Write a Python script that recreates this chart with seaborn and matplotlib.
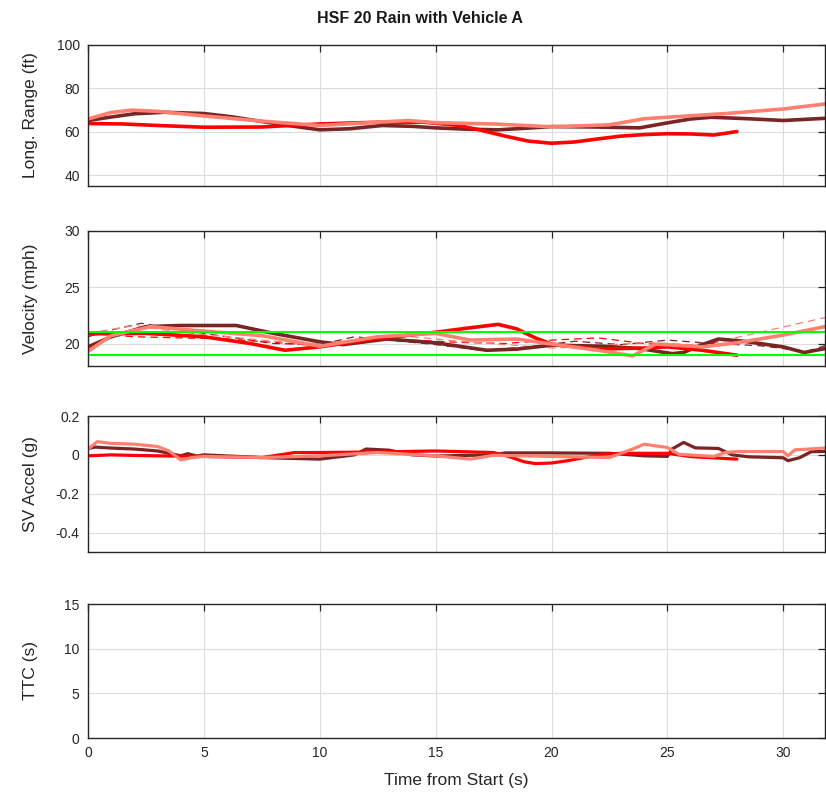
import numpy as np
import pandas as pd
import matplotlib
matplotlib.use("Agg")
import matplotlib.pyplot as plt
import seaborn as sns

# ---- run colours ----
run_names = ["Run 1", "Run 2", "Run 3"]
run_colors = ["#7a2424", "#ff0000", "#ff8070"]

# ---- longitudinal range (ft) ----
rng_t_1 = [0, 1, 2, 3.3, 5, 6.2, 7.4, 8.7, 10, 11.3, 12.7, 14, 15, 16.3, 17.7, 19, 20, 21.9, 23.8, 25, 26, 26.9, 28.5, 30, 31.8]
rng_v_1 = [65.2, 66.8, 68.3, 69.0, 68.4, 66.9, 64.9, 62.8, 60.9, 61.4, 62.9, 62.5, 61.8, 61.2, 60.9, 61.7, 62.4, 62.2, 61.8, 64.1, 65.9, 66.7, 66.0, 65.2, 66.2]
rng_t_2 = [0, 1.5, 3, 5, 7.5, 10, 12.5, 14.5, 16, 17, 18, 19, 20, 21, 22, 23, 24, 25, 26, 27, 28]
rng_v_2 = [63.8, 63.6, 62.9, 62.1, 62.2, 63.6, 64.4, 64.4, 62.9, 60.6, 58.0, 55.7, 54.7, 55.3, 56.7, 58.0, 58.7, 59.1, 59.0, 58.5, 60.1]
rng_t_3 = [0, 1, 1.9, 3, 5, 7.5, 10, 12.5, 13.8, 15, 17.5, 20, 22.5, 24, 25, 27.5, 30, 31.8]
rng_v_3 = [65.9, 68.9, 70.0, 69.4, 67.3, 64.9, 62.9, 64.4, 65.2, 64.2, 63.6, 62.3, 63.2, 66.0, 66.7, 68.4, 70.5, 72.8]

# ---- subject vehicle velocity (mph), solid ----
vel_t_1 = [0, 1, 2.5, 4, 6.4, 8, 10, 11, 12.9, 15, 17.2, 18.5, 20, 22.2, 23.8, 25.2, 25.7, 26.5, 27.2, 28.3, 30, 30.9, 31.8]
vel_v_1 = [19.7, 20.6, 21.5, 21.6, 21.6, 20.9, 20.15, 19.9, 20.4, 20.06, 19.4, 19.5, 19.85, 19.76, 19.55, 19.1, 19.2, 19.9, 20.4, 20.2, 19.7, 19.2, 19.55]
vel_t_2 = [0, 2.5, 5, 7, 8.5, 10, 12.5, 15, 16.5, 17.7, 18.5, 19.3, 20, 22, 24, 25, 26.5, 28]
vel_v_2 = [20.86, 20.9, 20.6, 20.0, 19.4, 19.7, 20.45, 21.0, 21.4, 21.7, 21.3, 20.5, 19.95, 19.5, 19.6, 19.7, 19.4, 18.96]
vel_t_3 = [0, 1, 2.7, 5, 7.5, 10, 12.5, 15, 16.5, 18.5, 20, 22, 23.5, 24.5, 26.5, 28, 30, 31.8]
vel_v_3 = [19.3, 20.7, 21.5, 21.1, 20.7, 19.76, 20.6, 20.9, 20.3, 20.4, 19.95, 19.4, 18.9, 19.95, 19.7, 20.06, 20.75, 21.5]

# ---- lead vehicle velocity (mph), dashed ----
pov_t_1 = [0, 1, 2.3, 4, 6, 8, 10, 11.5, 13, 15, 17, 19, 21, 23, 25, 27, 29, 31, 31.8]
pov_v_1 = [20.6, 21.2, 21.8, 21.2, 20.6, 20.0, 19.9, 20.6, 20.3, 19.9, 19.4, 19.7, 20.2, 19.9, 20.3, 20.0, 19.8, 19.3, 19.8]
pov_t_2 = [0, 2, 4, 6, 8, 10, 12, 14, 16, 18, 20, 22, 24, 26, 28]
pov_v_2 = [20.9, 20.6, 20.5, 20.4, 20.1, 19.8, 20.5, 20.3, 20.1, 20.0, 20.3, 20.5, 20.0, 19.8, 20.4]
pov_t_3 = [0, 2, 4, 6, 8, 10, 12, 14, 16, 18, 20, 22, 24, 26, 27.5, 29, 30.5, 31.8]
pov_v_3 = [20.9, 21.6, 21.0, 20.6, 20.2, 20.0, 20.4, 20.6, 20.2, 19.9, 19.6, 19.8, 20.1, 19.9, 20.3, 21.0, 21.7, 22.3]

# ---- speed tolerance band (mph) ----
band_lo, band_hi = 19.0, 21.0

# ---- subject vehicle acceleration (g) ----
acc_t_1 = [0, 0.3, 1, 2, 3, 3.5, 4, 4.3, 4.7, 5, 7.5, 10, 11.5, 12, 13, 14, 15, 17.5, 18, 20, 22.5, 24, 25, 25.2, 25.7, 26.2, 27.2, 27.8, 28.5, 30, 30.2, 30.7, 31.2, 31.8]
acc_v_1 = [0.033, 0.04, 0.035, 0.03, 0.02, 0.008, -0.005, 0.006, -0.006, 0.0, -0.014, -0.022, 0.0, 0.03, 0.024, 0.0, -0.006, 0.0, 0.01, 0.01, 0.008, -0.005, -0.008, 0.03, 0.064, 0.036, 0.033, 0.0, -0.01, -0.015, -0.03, -0.015, 0.016, 0.018]
acc_t_2 = [0, 1, 2, 3, 5, 7.5, 8.5, 8.9, 10, 12.5, 15, 17.5, 18.2, 18.8, 19.3, 20, 20.7, 21.5, 22.2, 23, 25, 26, 28]
acc_v_2 = [-0.005, 0.0, -0.003, -0.005, -0.008, -0.014, 0.004, 0.012, 0.012, 0.015, 0.02, 0.012, -0.01, -0.035, -0.045, -0.042, -0.03, -0.012, 0.003, 0.008, 0.008, -0.009, -0.022]
acc_t_3 = [0, 0.4, 1, 2, 3, 3.5, 4, 4.5, 5, 7.5, 10, 12.5, 15, 16.5, 17.5, 20, 22.5, 23.5, 24, 24.5, 25, 25.5, 27, 27.5, 28, 30, 30.2, 30.5, 31, 31.8]
acc_v_3 = [0.03, 0.068, 0.059, 0.055, 0.043, 0.02, -0.026, -0.014, -0.008, -0.014, -0.005, 0.012, -0.005, -0.022, -0.002, -0.008, -0.014, 0.03, 0.055, 0.046, 0.038, 0.003, -0.008, 0.012, 0.017, 0.017, -0.005, 0.026, 0.029, 0.035]

# ---- axis settings ----
x_ticks = [0, 5, 10, 15, 20, 25, 30]
x_max = 31.8
panel_labels = ["Long. Range (ft)", "Velocity (mph)", "SV Accel (g)", "TTC (s)"]
panel_ylims = [(35, 100), (18, 30), (-0.5, 0.2), (0, 15)]
panel_yticks = [[40, 60, 80, 100], [20, 25, 30], [-0.4, -0.2, 0, 0.2], [0, 5, 10, 15]]
panel_yticklabels = [["40", "60", "80", "100"], ["20", "25", "30"], ["-0.4", "-0.2", "0", "0.2"], ["0", "5", "10", "15"]]


def long_frame(ts, vs):
    rows = []
    for name, t, v in zip(run_names, ts, vs):
        rows.append(pd.DataFrame({"t": t, "v": v, "run": name}))
    return pd.concat(rows, ignore_index=True)


sns.set_theme(style="white")
plt.rcParams["font.family"] = ["Liberation Sans", "DejaVu Sans"]
plt.rcParams["axes.unicode_minus"] = False
plt.rcParams["lines.solid_capstyle"] = "round"
plt.rcParams["lines.solid_joinstyle"] = "round"

fig = plt.figure(figsize=(8.26, 7.93), dpi=100)
left, width = 88 / 826, 737 / 826
boxes = [(45, 186), (231, 366), (416, 552), (604, 738)]
axes = []
for top, bot in boxes:
    ax = fig.add_axes([left, 1 - bot / 793, width, (bot - top) / 793])
    axes.append(ax)

palette = dict(zip(run_names, run_colors))

# range
sns.lineplot(data=long_frame([rng_t_1, rng_t_2, rng_t_3], [rng_v_1, rng_v_2, rng_v_3]),
             x="t", y="v", hue="run", palette=palette, linewidth=2.6,
             sort=False, estimator=None, legend=False, ax=axes[0])

# velocity: lead vehicle dashed, subject solid, tolerance band
ax = axes[1]
sns.lineplot(data=long_frame([pov_t_1, pov_t_2, pov_t_3], [pov_v_1, pov_v_2, pov_v_3]),
             x="t", y="v", hue="run", palette=palette, linewidth=0.9,
             sort=False, estimator=None, legend=False, ax=ax)
for ln in ax.get_lines():
    ln.set_linestyle((0, (6, 4)))
sns.lineplot(data=long_frame([vel_t_1, vel_t_2, vel_t_3], [vel_v_1, vel_v_2, vel_v_3]),
             x="t", y="v", hue="run", palette=palette, linewidth=2.6,
             sort=False, estimator=None, legend=False, ax=ax)
band = pd.DataFrame({"t": [0, x_max, 0, x_max], "v": [band_lo, band_lo, band_hi, band_hi],
                     "edge": ["lo", "lo", "hi", "hi"]})
sns.lineplot(data=band, x="t", y="v", units="edge", estimator=None, color="#00ff00",
             linewidth=1.5, legend=False, ax=ax)

# acceleration
sns.lineplot(data=long_frame([acc_t_1, acc_t_2, acc_t_3], [acc_v_1, acc_v_2, acc_v_3]),
             x="t", y="v", hue="run", palette=palette, linewidth=2.3,
             sort=False, estimator=None, legend=False, ax=axes[2])

for i, ax in enumerate(axes):
    ax.set_xlim(0, x_max)
    ax.set_ylim(*panel_ylims[i])
    ax.set_xticks(x_ticks)
    ax.set_yticks(panel_yticks[i])
    ax.set_yticklabels(panel_yticklabels[i])
    ax.grid(True, color="#dcdcdc", linewidth=0.8)
    ax.set_axisbelow(True)
    for s in ax.spines.values():
        s.set_color("#262626")
        s.set_linewidth(1.0)
        s.set_visible(True)
    ax.tick_params(direction="in", length=5, width=0.9, color="#262626",
                   top=True, right=True, labelsize=10, labelcolor="#262626", pad=6)
    ax.set_ylabel(panel_labels[i], fontsize=12.5, color="#262626")
    ax.yaxis.set_label_coords(-0.068, 0.5)
    if i < 3:
        ax.set_xticklabels([])
        ax.set_xlabel("")
    else:
        ax.set_xlabel("Time from Start (s)", fontsize=12.5, color="#262626", labelpad=9)

fig.text(0.508, 0.977, "HSF 20 Rain with Vehicle A", ha="center", va="center",
         fontsize=11.5, fontweight="bold", color="#1a1a1a")

fig.savefig("out.png", dpi=100)
